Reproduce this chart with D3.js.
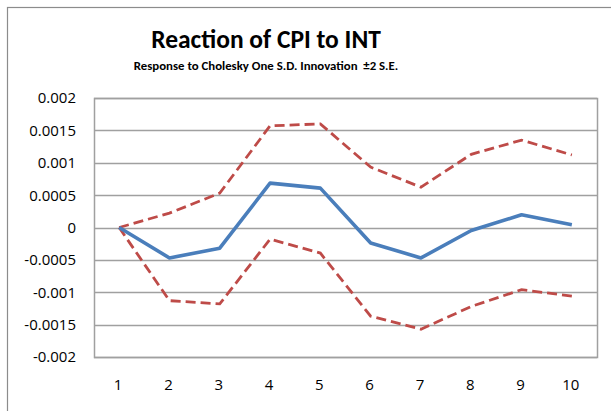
<!DOCTYPE html>
<html>
<head>
<meta charset="utf-8">
<script src="https://cdn.jsdelivr.net/npm/d3@7"></script>
<style>
    body { margin: 0; background: #fff; }
    text { font-family: Carlito, Lato, "Open Sans", sans-serif; fill: #000; }
    text.tick_label { font-family: "Open Sans", sans-serif; }
</style>
</head>
<body>
<div id="chart"></div>
<script>
// periods on the x axis
const periods = [1, 2, 3, 4, 5, 6, 7, 8, 9, 10];
// impulse response and the +/- 2 S.E. bands
const response = [0, -0.00047, -0.00032, 0.000685, 0.000608, -0.00024, -0.00047, -0.000046, 0.000196, 0.000042];
const upper_band = [0, 0.000222, 0.000531, 0.00157, 0.0016, 0.000932, 0.000623, 0.00113, 0.00135, 0.00112];
const lower_band = [0, -0.00113, -0.00118, -0.00018, -0.000395, -0.00137, -0.00157, -0.00122, -0.00096, -0.00106];
const y_ticks = [0.002, 0.0015, 0.001, 0.0005, 0, -0.0005, -0.001, -0.0015, -0.002];
const y_tick_labels = ["0.002", "0.0015", "0.001", "0.0005", "0", "-0.0005", "-0.001", "-0.0015", "-0.002"];

function draw_chart() {
    const width = 611;
    const height = 411;
    // plot area
    const margin_left = 94;
    const margin_right = 14;
    const margin_top = 98;
    const plot_bottom = 357;

    const line_color = "#4A7EBB";
    const band_color = "#BE4B48";
    const grid_color = "#A0A0A0";

    const svg = d3.create("svg")
        .attr("width", width)
        .attr("height", height);

    // outer chart frame (runs off the right and bottom of the picture)
    svg.append("rect")
        .attr("x", 7.5)
        .attr("y", 7.5)
        .attr("width", width + 20)
        .attr("height", height + 20)
        .attr("fill", "none")
        .attr("stroke", "#8C8C8C")
        .attr("stroke-width", 1.2);

    const xScale = d3.scalePoint()
        .domain(periods)
        .range([margin_left, width - margin_right])
        .padding(0.5);

    const yScale = d3.scaleLinear()
        .domain([-0.002, 0.002])
        .range([plot_bottom, margin_top]);

    // grid lines
    svg.append("g")
        .selectAll("line")
        .data(y_ticks)
        .join("line")
        .attr("x1", margin_left)
        .attr("x2", width - margin_right)
        .attr("y1", d => Math.round(yScale(d)) + 0.5)
        .attr("y2", d => Math.round(yScale(d)) + 0.5)
        .attr("stroke", grid_color)
        .attr("stroke-width", 1.5);

    // plot border
    svg.append("rect")
        .attr("x", margin_left + 0.5)
        .attr("y", margin_top + 0.5)
        .attr("width", width - margin_right - margin_left)
        .attr("height", plot_bottom - margin_top)
        .attr("fill", "none")
        .attr("stroke", grid_color)
        .attr("stroke-width", 1.5);

    // y axis labels
    svg.append("g")
        .selectAll("text")
        .data(y_ticks)
        .join("text")
        .attr("class", "tick_label")
        .attr("x", 76)
        .attr("y", d => yScale(d))
        .attr("dy", "0.36em")
        .attr("text-anchor", "end")
        .attr("font-size", 15)
        .text((d, i) => y_tick_labels[i]);

    // x axis labels
    svg.append("g")
        .selectAll("text")
        .data(periods)
        .join("text")
        .attr("class", "tick_label")
        .attr("x", d => xScale(d) - 1)
        .attr("y", 385)
        .attr("dy", "0.36em")
        .attr("text-anchor", "middle")
        .attr("font-size", 15)
        .text(d => d);

    const line = d3.line()
        .x((d, i) => xScale(periods[i]))
        .y(d => yScale(d));

    // bands
    [upper_band, lower_band].forEach(function (band) {
        svg.append("path")
            .datum(band)
            .attr("d", line)
            .attr("fill", "none")
            .attr("stroke", band_color)
            .attr("stroke-width", 2.8)
            .attr("stroke-dasharray", "10,5");
    });

    // response line
    svg.append("path")
        .datum(response)
        .attr("d", line)
        .attr("fill", "none")
        .attr("stroke", line_color)
        .attr("stroke-width", 3.6)
        .attr("stroke-linejoin", "round");

    // titles
    svg.append("text")
        .attr("x", 266)
        .attr("y", 48)
        .attr("text-anchor", "middle")
        .attr("font-size", 25.5)
        .attr("font-weight", "bold")
        .text("Reaction of CPI to INT");

    svg.append("text")
        .attr("x", 266)
        .attr("y", 70)
        .attr("text-anchor", "middle")
        .attr("font-size", 12.8)
        .attr("font-weight", "bold")
        .text("Response to Cholesky One S.D. Innovation \u00A0\u00B12 S.E.");

    d3.select("#chart").node().append(svg.node());
}

draw_chart();
</script>
</body>
</html>
